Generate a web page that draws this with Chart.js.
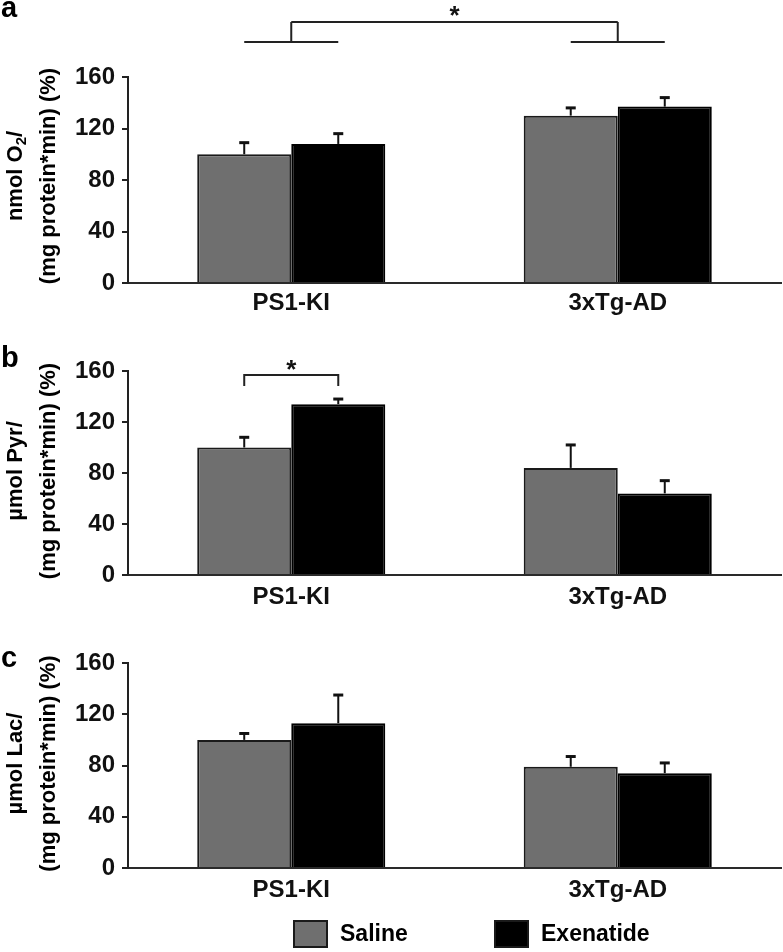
<!DOCTYPE html>
<html><head><meta charset="utf-8">
<script src="https://cdn.jsdelivr.net/npm/chart.js@4.4.1/dist/chart.umd.min.js"></script>
<style>
html,body{margin:0;padding:0;background:#fff}
body{width:783px;height:952px;overflow:hidden;position:relative}
.p{position:absolute;left:0;width:783px}
</style></head><body>
<div class="p" style="top:0;height:325px"><canvas id="ca"></canvas></div>
<div class="p" style="top:312px;height:305px"><canvas id="cb"></canvas></div>
<div class="p" style="top:612px;height:340px"><canvas id="cc"></canvas></div>
<script>
// ---- data ----
const categories = ['PS1-KI', '3xTg-AD'];
const seriesNames = ['Saline', 'Exenatide'];
const yTicks = [0, 40, 80, 120, 160];

// panel a: O2 consumption (% of PS1-KI saline)
const salineA = [100, 130];
const salineAErr = [9, 6];
const exenA = [108, 137];
const exenAErr = [8, 7];

// panel b: pyruvate
const salineB = [100, 84];
const salineBErr = [8, 18];
const exenB = [134, 64];
const exenBErr = [4, 10];

// panel c: lactate
const salineC = [100, 79];
const salineCErr = [5, 8];
const exenC = [113, 74];
const exenCErr = [22, 8];

const grayColor = '#6f6f6f';
const blackColor = '#000000';
const FONT = "'Liberation Sans', Arial, Helvetica, sans-serif";

// ---- plugins ----
const errorBars = {
  id: 'errorBars',
  afterDatasetsDraw(chart) {
    const ctx = chart.ctx, y = chart.scales.y;
    chart.data.datasets.forEach((ds, i) => {
      chart.getDatasetMeta(i).data.forEach((bar, j) => {
        const top = y.getPixelForValue(ds.data[j] + ds.errors[j]);
        ctx.save();
        ctx.strokeStyle = '#111';
        ctx.lineWidth = 2;
        ctx.beginPath();
        ctx.moveTo(bar.x, bar.y);
        ctx.lineTo(bar.x, top);
        ctx.stroke();
        ctx.lineWidth = 3;
        ctx.beginPath();
        ctx.moveTo(bar.x - 5, top);
        ctx.lineTo(bar.x + 5, top);
        ctx.stroke();
        ctx.restore();
      });
    });
  }
};

const brackets = {
  id: 'brackets',
  afterDraw(chart, args, o) {
    if (!o || !o.kind) return;
    const ctx = chart.ctx;
    const m0 = chart.getDatasetMeta(0).data, m1 = chart.getDatasetMeta(1).data;
    ctx.save();
    ctx.strokeStyle = '#222';
    ctx.lineWidth = 2;
    ctx.beginPath();
    let sx;
    if (o.kind === 'groups') {
      const xs = [];
      for (let c = 0; c < 2; c++) {
        const xc = chart.scales.x.getPixelForValue(c);
        xs.push(xc);
        ctx.moveTo(m0[c].x, o.yLow); ctx.lineTo(m1[c].x, o.yLow);
        ctx.moveTo(xc, o.yLow); ctx.lineTo(xc, o.yTop);
      }
      ctx.moveTo(xs[0], o.yTop); ctx.lineTo(xs[1], o.yTop);
      sx = (xs[0] + xs[1]) / 2;
    } else {
      const a = m0[o.cat].x, b = m1[o.cat].x;
      ctx.moveTo(a, o.yTick); ctx.lineTo(a, o.yTop); ctx.lineTo(b, o.yTop); ctx.lineTo(b, o.yTick);
      sx = (a + b) / 2;
    }
    ctx.stroke();
    ctx.fillStyle = '#111';
    ctx.font = 'bold 26px ' + FONT;
    ctx.textAlign = 'center';
    ctx.textBaseline = 'alphabetic';
    ctx.fillText('*', sx, o.starY);
    ctx.restore();
  }
};

const decorations = {
  id: 'decorations',
  afterDraw(chart, args, o) {
    const ctx = chart.ctx;
    const area = chart.chartArea;
    ctx.save();
    // panel letter
    ctx.fillStyle = '#000';
    ctx.font = 'bold 29px ' + FONT;
    ctx.textAlign = 'left';
    ctx.textBaseline = 'alphabetic';
    ctx.fillText(o.letter, 1, o.letterY);
    // y title: two rotated lines, centred on the plot area
    const size = 22;
    const cy = (area.top + area.bottom) / 2 + o.titleShift;
    ctx.translate(o.titleX[0], cy);
    ctx.rotate(-Math.PI / 2);
    ctx.textBaseline = 'middle';
    o.titleLines.forEach((parts, li) => {
      const dy = o.titleX[li] - o.titleX[0];
      const widths = parts.map(p => {
        ctx.font = 'bold ' + (p.sub ? 15 : size) + 'px ' + FONT;
        return ctx.measureText(p.t).width;
      });
      const total = widths.reduce((a, b) => a + b, 0);
      let x = -total / 2;
      parts.forEach((p, k) => {
        ctx.font = 'bold ' + (p.sub ? 15 : size) + 'px ' + FONT;
        ctx.textAlign = 'left';
        ctx.fillText(p.t, x, dy + (p.sub ? 6 : 0));
        x += widths[k];
      });
    });
    ctx.restore();
    // legend
    if (o.legend) {
      ctx.save();
      chart.data.datasets.forEach((ds, i) => {
        const L = o.legend[i];
        ctx.fillStyle = ds.backgroundColor;
        ctx.fillRect(L.x, L.y, 35, 28);
        ctx.strokeStyle = '#1a1a1a';
        ctx.lineWidth = 2;
        ctx.strokeRect(L.x + 1, L.y + 1, 33, 26);
        ctx.fillStyle = '#000';
        ctx.font = 'bold 23px ' + FONT;
        ctx.textAlign = 'left';
        ctx.textBaseline = 'middle';
        ctx.fillText(ds.label, L.x + 47, L.y + 15);
      });
      ctx.restore();
    }
  }
};

// ---- chart builder ----
function makePanel(id, sal, salErr, exe, exeErr, cfg) {
  return new Chart(document.getElementById(id), {
    type: 'bar',
    data: {
      labels: categories,
      datasets: [
        { label: seriesNames[0], data: sal, errors: salErr, backgroundColor: grayColor,
          borderColor: '#1a1a1a', borderWidth: 2, borderSkipped: 'bottom' },
        { label: seriesNames[1], data: exe, errors: exeErr, backgroundColor: blackColor,
          borderColor: '#000', borderWidth: 2, borderSkipped: 'bottom' }
      ]
    },
    options: {
      responsive: true,
      maintainAspectRatio: false,
      animation: false,
      devicePixelRatio: 1,
      layout: { padding: { top: cfg.top, left: 0, right: 2, bottom: 0 } },
      datasets: { bar: { barPercentage: 1, categoryPercentage: 0.576 } },
      scales: {
        x: {
          type: 'category',
          offset: true,
          grid: { display: false, drawTicks: false },
          border: { display: true, color: '#2a2a2a', width: 2 },
          ticks: { color: '#111', padding: cfg.xPad, font: { family: FONT, size: 24, weight: 'bold', lineHeight: 1 } },
          afterFit: s => { s.height = cfg.xH; }
        },
        y: {
          min: 0, max: 160,
          afterBuildTicks: s => { s.ticks = yTicks.map(v => ({ value: v })); },
          grid: { drawOnChartArea: false, drawTicks: true, tickLength: 6, color: '#222', lineWidth: 2 },
          border: { display: true, color: '#222', width: 2 },
          ticks: { color: '#111', padding: 7, font: { family: FONT, size: 24, weight: 'bold' } },
          afterFit: s => { s.width = 128; }
        }
      },
      plugins: {
        legend: { display: false },
        tooltip: { enabled: false },
        brackets: cfg.brackets || {},
        decorations: cfg.deco
      }
    },
    plugins: [errorBars, brackets, decorations]
  });
}

makePanel('ca', salineA, salineAErr, exenA, exenAErr, {
  top: 77, xH: 42, xPad: 8,
  brackets: { kind: 'groups', yLow: 42, yTop: 22, starY: 24 },
  deco: { letter: 'a', letterY: 17, titleX: [16, 49], titleShift: -4,
    titleLines: [[{ t: 'nmol O' }, { t: '2', sub: true }, { t: '/' }], [{ t: '(mg protein*min) (%)' }]] }
});

makePanel('cb', salineB, salineBErr, exenB, exenBErr, {
  top: 59, xH: 42, xPad: 10,
  brackets: { kind: 'pair', cat: 0, yTop: 63, yTick: 74, starY: 66 },
  deco: { letter: 'b', letterY: 55, titleX: [16, 49], titleShift: -2,
    titleLines: [[{ t: 'µmol Pyr/' }], [{ t: '(mg protein*min) (%)' }]] }
});

makePanel('cc', salineC, salineCErr, exenC, exenCErr, {
  top: 51, xH: 84, xPad: 10,
  deco: { letter: 'c', letterY: 55, titleX: [16, 49], titleShift: -2,
    titleLines: [[{ t: 'µmol Lac/' }], [{ t: '(mg protein*min) (%)' }]],
    legend: [{ x: 293, y: 308 }, { x: 494, y: 308 }] }
});
</script>
</body></html>
